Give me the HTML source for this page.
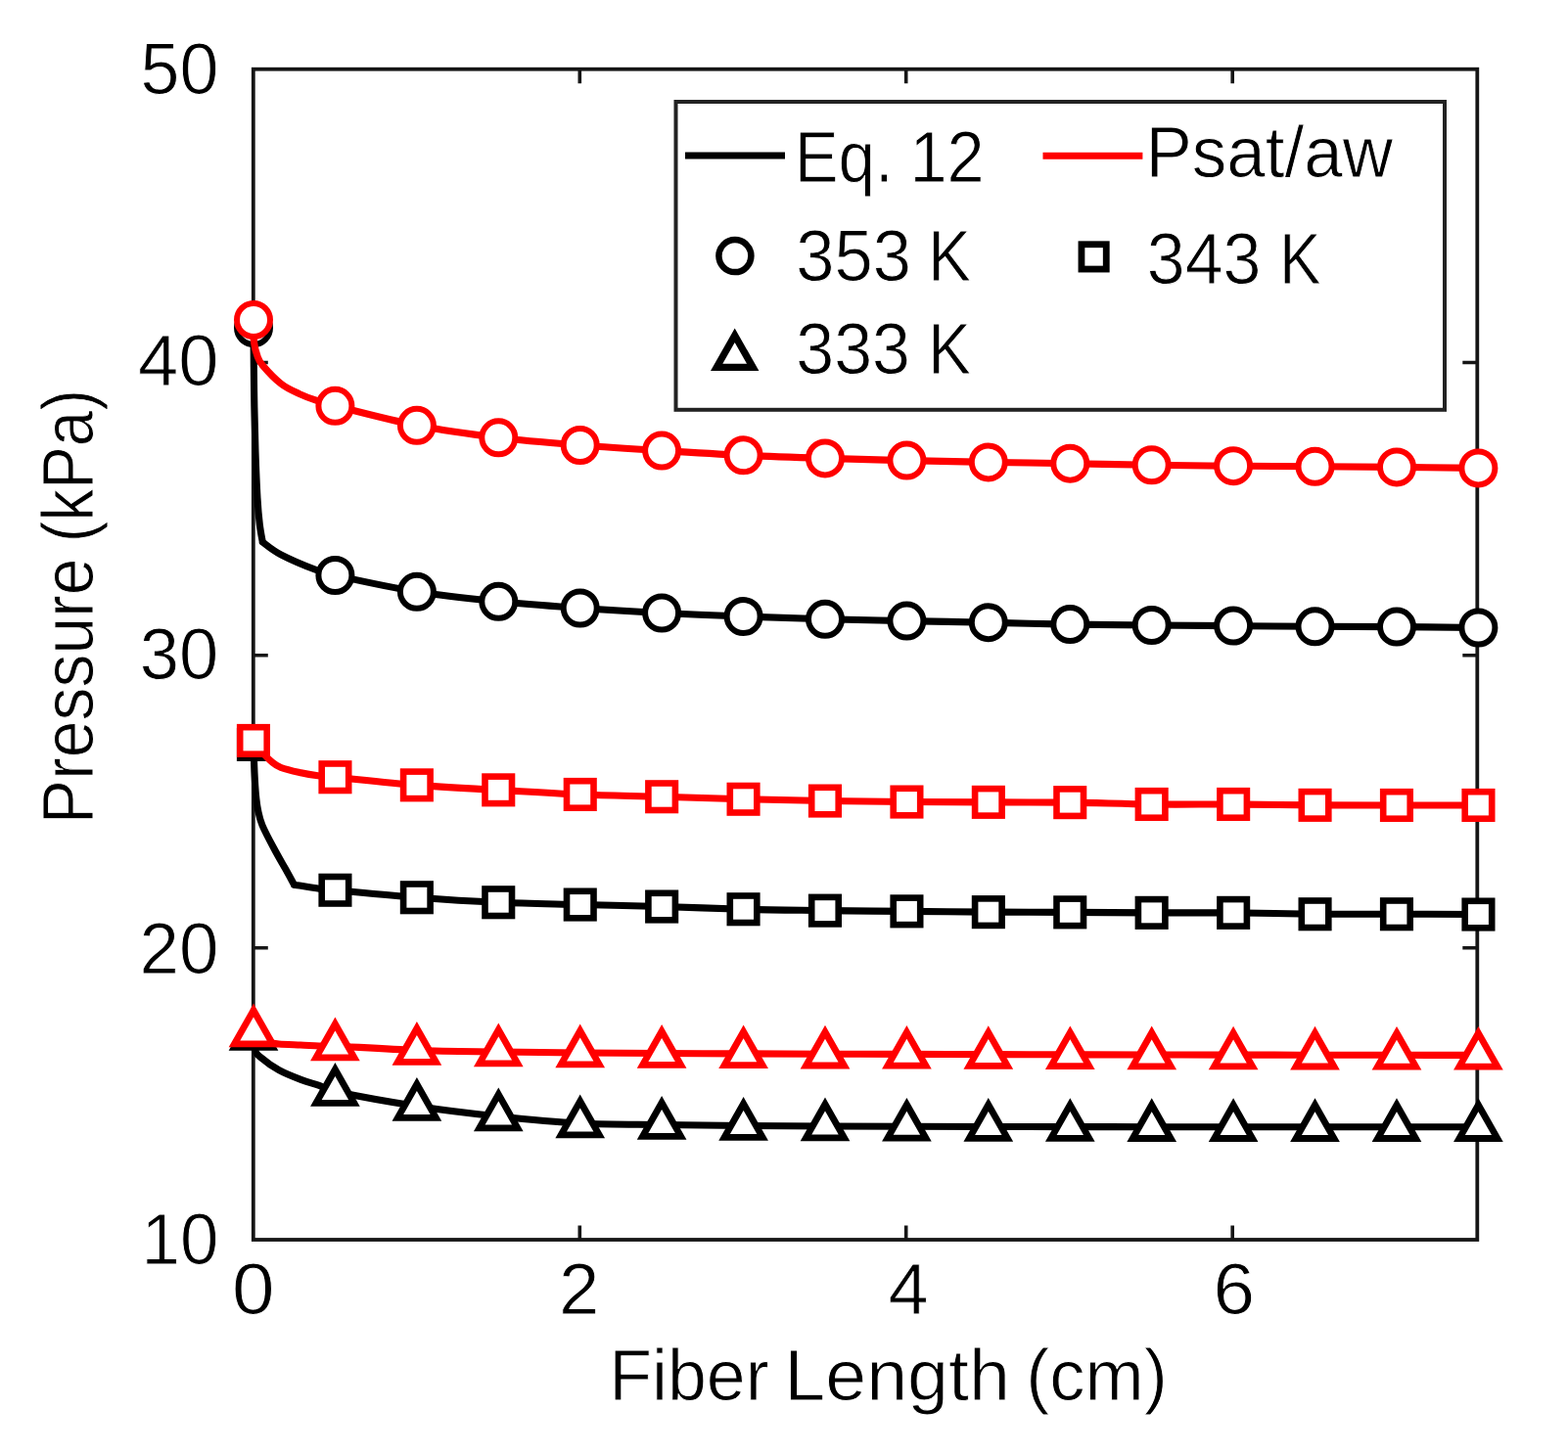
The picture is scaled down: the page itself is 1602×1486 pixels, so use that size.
<!DOCTYPE html><html><head><meta charset="utf-8"><title>Pressure vs Fiber Length</title><style>html,body{margin:0;padding:0;background:#fff}svg{display:block}text{font-family:"Liberation Sans",Arial,sans-serif;fill:#000;stroke:#fff;stroke-width:0.9px}</style></head><body>
<svg width="1602" height="1486" viewBox="0 0 1602 1486">
<rect width="1602" height="1486" fill="#fff"/>
<path d="M258.8 968.8H273.8 M1509.3 968.8H1494.3 M258.8 669.7H273.8 M1509.3 669.7H1494.3 M258.8 370.5H273.8 M1509.3 370.5H1494.3 M592.3 1267.0V1252.5 M592.3 70.7V85.2 M925.7 1267.0V1252.5 M925.7 70.7V85.2 M1259.2 1267.0V1252.5 M1259.2 70.7V85.2" stroke="#161616" stroke-width="3.6" fill="none"/>
<rect x="258.8" y="70.7" width="1250.5" height="1196.3" fill="none" stroke="#161616" stroke-width="3.8"/>
<text x="143.47" y="95.90" font-size="73.5" textLength="79.83" lengthAdjust="spacingAndGlyphs">50</text>
<text x="140.98" y="393.70" font-size="73.5" textLength="82.40" lengthAdjust="spacingAndGlyphs">40</text>
<text x="142.85" y="694.30" font-size="73.5" textLength="80.47" lengthAdjust="spacingAndGlyphs">30</text>
<text x="142.44" y="994.90" font-size="73.5" textLength="80.89" lengthAdjust="spacingAndGlyphs">20</text>
<text x="144.52" y="1291.60" font-size="73.5" textLength="78.74" lengthAdjust="spacingAndGlyphs">10</text>
<text x="237.00" y="1343.10" font-size="73.5" textLength="43.58" lengthAdjust="spacingAndGlyphs">0</text>
<text x="571.05" y="1342.50" font-size="73.5" textLength="41.39" lengthAdjust="spacingAndGlyphs">2</text>
<text x="907.59" y="1342.50" font-size="73.5" textLength="41.11" lengthAdjust="spacingAndGlyphs">4</text>
<text x="1239.64" y="1342.90" font-size="73.5" textLength="42.57" lengthAdjust="spacingAndGlyphs">6</text>
<text x="622.25" y="1430.50" font-size="73.5" textLength="163.39" lengthAdjust="spacingAndGlyphs">Fiber</text>
<text x="801.24" y="1430.50" font-size="73.5" textLength="230.70" lengthAdjust="spacingAndGlyphs">Length</text>
<text x="1048.28" y="1430.50" font-size="73.5" textLength="144.47" lengthAdjust="spacingAndGlyphs">(cm)</text>
<text transform="translate(95.30 842.14) rotate(-90)" x="0" y="0" font-size="73.5" textLength="271.72" lengthAdjust="spacingAndGlyphs">Pressure</text>
<text transform="translate(95.30 554.14) rotate(-90)" x="0" y="0" font-size="73.5" textLength="156.04" lengthAdjust="spacingAndGlyphs">(kPa)</text>
<path d="M259.0 335.0 C259.1 345.8 259.3 378.8 259.6 400.0 C259.9 421.2 260.4 443.8 261.0 462.0 C261.6 480.2 262.3 496.7 263.0 509.0 C263.7 521.3 264.4 528.5 265.3 536.0 C266.2 543.5 267.8 551.0 268.3 554.0 M268.3 554.0 C271.4 556.1 277.8 562.0 287.0 566.8 C296.2 571.6 314.6 579.3 323.8 582.8 C333.0 586.3 325.4 584.3 342.4 588.0 C359.4 591.7 398.0 600.3 425.9 604.8 C453.7 609.3 481.5 612.0 509.3 614.8 C537.1 617.6 564.9 619.5 592.7 621.5 C620.5 623.5 648.3 625.1 676.1 626.5 C703.9 627.9 731.8 629.0 759.6 630.0 C787.4 631.0 815.2 632.0 843.0 632.8 C870.8 633.6 898.6 634.0 926.4 634.6 C954.2 635.2 982.0 635.6 1009.8 636.2 C1037.6 636.8 1065.5 637.6 1093.3 638.1 C1121.1 638.6 1148.9 638.8 1176.7 639.0 C1204.5 639.2 1232.3 639.4 1260.1 639.6 C1287.9 639.8 1315.7 640.1 1343.5 640.3 C1371.4 640.5 1399.2 640.4 1427.0 640.6 C1454.8 640.8 1496.5 641.4 1510.4 641.5" fill="none" stroke="#000" stroke-width="7.1" stroke-linejoin="round" stroke-linecap="round"/>
<circle cx="259.0" cy="335.0" r="17.0" fill="#fff" stroke="#000" stroke-width="6.0"/>
<circle cx="342.4" cy="588.0" r="17.0" fill="#fff" stroke="#000" stroke-width="6.0"/>
<circle cx="425.9" cy="604.8" r="17.0" fill="#fff" stroke="#000" stroke-width="6.0"/>
<circle cx="509.3" cy="614.8" r="17.0" fill="#fff" stroke="#000" stroke-width="6.0"/>
<circle cx="592.7" cy="621.5" r="17.0" fill="#fff" stroke="#000" stroke-width="6.0"/>
<circle cx="676.1" cy="626.5" r="17.0" fill="#fff" stroke="#000" stroke-width="6.0"/>
<circle cx="759.6" cy="630.0" r="17.0" fill="#fff" stroke="#000" stroke-width="6.0"/>
<circle cx="843.0" cy="632.8" r="17.0" fill="#fff" stroke="#000" stroke-width="6.0"/>
<circle cx="926.4" cy="634.6" r="17.0" fill="#fff" stroke="#000" stroke-width="6.0"/>
<circle cx="1009.8" cy="636.2" r="17.0" fill="#fff" stroke="#000" stroke-width="6.0"/>
<circle cx="1093.3" cy="638.1" r="17.0" fill="#fff" stroke="#000" stroke-width="6.0"/>
<circle cx="1176.7" cy="639.0" r="17.0" fill="#fff" stroke="#000" stroke-width="6.0"/>
<circle cx="1260.1" cy="639.6" r="17.0" fill="#fff" stroke="#000" stroke-width="6.0"/>
<circle cx="1343.5" cy="640.3" r="17.0" fill="#fff" stroke="#000" stroke-width="6.0"/>
<circle cx="1427.0" cy="640.6" r="17.0" fill="#fff" stroke="#000" stroke-width="6.0"/>
<circle cx="1510.4" cy="641.5" r="17.0" fill="#fff" stroke="#000" stroke-width="6.0"/>
<path d="M259.0 761.0 C259.2 765.8 259.6 781.5 260.0 790.0 C260.4 798.5 260.8 805.7 261.4 812.0 C262.0 818.3 262.5 822.8 263.6 828.0 C264.7 833.2 265.2 836.8 268.0 843.5 C270.8 850.2 276.5 860.8 280.4 868.0 C284.2 875.2 287.7 881.0 291.1 887.0 C294.5 893.0 299.0 901.4 300.6 904.3 M300.6 904.3 C304.9 904.9 319.1 907.3 326.1 908.2 C333.1 909.1 325.8 908.3 342.4 909.8 C359.1 911.3 398.0 915.2 425.9 917.3 C453.7 919.4 481.5 921.1 509.3 922.3 C537.1 923.5 564.9 923.8 592.7 924.5 C620.5 925.2 648.3 925.7 676.1 926.5 C703.9 927.3 731.8 928.6 759.6 929.3 C787.4 930.0 815.2 930.2 843.0 930.6 C870.8 931.0 898.6 931.1 926.4 931.4 C954.2 931.6 982.0 931.9 1009.8 932.1 C1037.6 932.3 1065.5 932.3 1093.3 932.4 C1121.1 932.5 1148.9 932.8 1176.7 932.9 C1204.5 933.0 1232.3 932.7 1260.1 932.9 C1287.9 933.1 1315.7 934.0 1343.5 934.2 C1371.4 934.4 1399.2 934.2 1427.0 934.2 C1454.8 934.2 1496.5 934.5 1510.4 934.5" fill="none" stroke="#000" stroke-width="7.1" stroke-linejoin="round" stroke-linecap="round"/>
<rect x="245.2" y="747.2" width="27.5" height="27.5" fill="#fff" stroke="#000" stroke-width="6.6"/>
<rect x="328.7" y="896.0" width="27.5" height="27.5" fill="#fff" stroke="#000" stroke-width="6.6"/>
<rect x="412.1" y="903.5" width="27.5" height="27.5" fill="#fff" stroke="#000" stroke-width="6.6"/>
<rect x="495.5" y="908.5" width="27.5" height="27.5" fill="#fff" stroke="#000" stroke-width="6.6"/>
<rect x="579.0" y="910.8" width="27.5" height="27.5" fill="#fff" stroke="#000" stroke-width="6.6"/>
<rect x="662.4" y="912.8" width="27.5" height="27.5" fill="#fff" stroke="#000" stroke-width="6.6"/>
<rect x="745.8" y="915.5" width="27.5" height="27.5" fill="#fff" stroke="#000" stroke-width="6.6"/>
<rect x="829.2" y="916.9" width="27.5" height="27.5" fill="#fff" stroke="#000" stroke-width="6.6"/>
<rect x="912.7" y="917.6" width="27.5" height="27.5" fill="#fff" stroke="#000" stroke-width="6.6"/>
<rect x="996.1" y="918.4" width="27.5" height="27.5" fill="#fff" stroke="#000" stroke-width="6.6"/>
<rect x="1079.5" y="918.6" width="27.5" height="27.5" fill="#fff" stroke="#000" stroke-width="6.6"/>
<rect x="1162.9" y="919.1" width="27.5" height="27.5" fill="#fff" stroke="#000" stroke-width="6.6"/>
<rect x="1246.4" y="919.1" width="27.5" height="27.5" fill="#fff" stroke="#000" stroke-width="6.6"/>
<rect x="1329.8" y="920.5" width="27.5" height="27.5" fill="#fff" stroke="#000" stroke-width="6.6"/>
<rect x="1413.2" y="920.5" width="27.5" height="27.5" fill="#fff" stroke="#000" stroke-width="6.6"/>
<rect x="1496.7" y="920.8" width="27.5" height="27.5" fill="#fff" stroke="#000" stroke-width="6.6"/>
<path d="M259.0 1058.5 C259.3 1060.9 259.4 1069.3 260.6 1073.0 C261.8 1076.7 262.1 1077.0 266.2 1080.5 C270.3 1084.0 278.1 1089.9 285.0 1093.7 C291.9 1097.5 300.5 1100.8 307.4 1103.4 C314.2 1106.0 320.3 1107.4 326.1 1109.4 C331.9 1111.4 325.8 1112.0 342.4 1115.5 C359.1 1119.0 398.0 1126.2 425.9 1130.5 C453.7 1134.8 481.5 1138.1 509.3 1141.0 C537.1 1143.9 564.9 1146.6 592.7 1148.0 C620.5 1149.4 648.3 1149.1 676.1 1149.5 C703.9 1149.9 731.8 1150.2 759.6 1150.5 C787.4 1150.8 815.2 1150.9 843.0 1151.0 C870.8 1151.1 898.6 1151.2 926.4 1151.3 C954.2 1151.4 982.0 1151.5 1009.8 1151.5 C1037.6 1151.5 1065.5 1151.6 1093.3 1151.6 C1121.1 1151.6 1148.9 1151.7 1176.7 1151.7 C1204.5 1151.7 1232.3 1151.7 1260.1 1151.7 C1287.9 1151.7 1315.7 1151.7 1343.5 1151.7 C1371.4 1151.7 1399.2 1151.7 1427.0 1151.7 C1454.8 1151.7 1496.5 1151.7 1510.4 1151.7" fill="none" stroke="#000" stroke-width="7.1" stroke-linejoin="round" stroke-linecap="round"/>
<path d="M259.0 1036.0L278.5 1070.3L239.5 1070.3Z" fill="#fff" stroke="#000" stroke-width="6.8" stroke-linejoin="miter" stroke-miterlimit="10"/>
<path d="M342.4 1093.0L361.9 1127.3L322.9 1127.3Z" fill="#fff" stroke="#000" stroke-width="6.8" stroke-linejoin="miter" stroke-miterlimit="10"/>
<path d="M425.9 1108.0L445.4 1142.3L406.4 1142.3Z" fill="#fff" stroke="#000" stroke-width="6.8" stroke-linejoin="miter" stroke-miterlimit="10"/>
<path d="M509.3 1118.5L528.8 1152.8L489.8 1152.8Z" fill="#fff" stroke="#000" stroke-width="6.8" stroke-linejoin="miter" stroke-miterlimit="10"/>
<path d="M592.7 1125.5L612.2 1159.8L573.2 1159.8Z" fill="#fff" stroke="#000" stroke-width="6.8" stroke-linejoin="miter" stroke-miterlimit="10"/>
<path d="M676.1 1127.0L695.6 1161.3L656.6 1161.3Z" fill="#fff" stroke="#000" stroke-width="6.8" stroke-linejoin="miter" stroke-miterlimit="10"/>
<path d="M759.6 1128.0L779.1 1162.3L740.1 1162.3Z" fill="#fff" stroke="#000" stroke-width="6.8" stroke-linejoin="miter" stroke-miterlimit="10"/>
<path d="M843.0 1128.5L862.5 1162.8L823.5 1162.8Z" fill="#fff" stroke="#000" stroke-width="6.8" stroke-linejoin="miter" stroke-miterlimit="10"/>
<path d="M926.4 1128.8L945.9 1163.1L906.9 1163.1Z" fill="#fff" stroke="#000" stroke-width="6.8" stroke-linejoin="miter" stroke-miterlimit="10"/>
<path d="M1009.8 1129.0L1029.3 1163.3L990.3 1163.3Z" fill="#fff" stroke="#000" stroke-width="6.8" stroke-linejoin="miter" stroke-miterlimit="10"/>
<path d="M1093.3 1129.1L1112.8 1163.4L1073.8 1163.4Z" fill="#fff" stroke="#000" stroke-width="6.8" stroke-linejoin="miter" stroke-miterlimit="10"/>
<path d="M1176.7 1129.2L1196.2 1163.5L1157.2 1163.5Z" fill="#fff" stroke="#000" stroke-width="6.8" stroke-linejoin="miter" stroke-miterlimit="10"/>
<path d="M1260.1 1129.2L1279.6 1163.5L1240.6 1163.5Z" fill="#fff" stroke="#000" stroke-width="6.8" stroke-linejoin="miter" stroke-miterlimit="10"/>
<path d="M1343.5 1129.2L1363.0 1163.5L1324.0 1163.5Z" fill="#fff" stroke="#000" stroke-width="6.8" stroke-linejoin="miter" stroke-miterlimit="10"/>
<path d="M1427.0 1129.2L1446.5 1163.5L1407.5 1163.5Z" fill="#fff" stroke="#000" stroke-width="6.8" stroke-linejoin="miter" stroke-miterlimit="10"/>
<path d="M1510.4 1129.2L1529.9 1163.5L1490.9 1163.5Z" fill="#fff" stroke="#000" stroke-width="6.8" stroke-linejoin="miter" stroke-miterlimit="10"/>
<path d="M259.0 327.0 C259.1 330.8 258.9 343.8 259.6 350.0 C260.3 356.2 261.6 360.1 263.0 364.0 C264.4 367.9 264.3 368.7 268.3 373.4 C272.3 378.1 280.9 387.4 287.2 392.3 C293.5 397.2 300.0 399.8 306.0 402.6 C312.0 405.4 316.9 407.2 323.0 409.2 C329.1 411.2 325.3 410.5 342.4 414.8 C359.6 419.1 398.0 429.4 425.9 434.8 C453.7 440.2 481.5 443.9 509.3 447.3 C537.1 450.7 564.9 452.8 592.7 455.0 C620.5 457.2 648.3 458.9 676.1 460.6 C703.9 462.3 731.8 464.0 759.6 465.3 C787.4 466.6 815.2 467.5 843.0 468.4 C870.8 469.3 898.6 469.9 926.4 470.6 C954.2 471.3 982.0 471.9 1009.8 472.4 C1037.6 472.9 1065.5 473.2 1093.3 473.7 C1121.1 474.2 1148.9 474.9 1176.7 475.3 C1204.5 475.7 1232.3 475.9 1260.1 476.2 C1287.9 476.4 1315.7 476.6 1343.5 476.8 C1371.4 477.0 1399.2 477.1 1427.0 477.4 C1454.8 477.7 1496.5 478.2 1510.4 478.4" fill="none" stroke="#ff0000" stroke-width="7.1" stroke-linejoin="round" stroke-linecap="round"/>
<circle cx="259.0" cy="327.0" r="17.0" fill="#fff" stroke="#ff0000" stroke-width="6.0"/>
<circle cx="342.4" cy="414.8" r="17.0" fill="#fff" stroke="#ff0000" stroke-width="6.0"/>
<circle cx="425.9" cy="434.8" r="17.0" fill="#fff" stroke="#ff0000" stroke-width="6.0"/>
<circle cx="509.3" cy="447.3" r="17.0" fill="#fff" stroke="#ff0000" stroke-width="6.0"/>
<circle cx="592.7" cy="455.0" r="17.0" fill="#fff" stroke="#ff0000" stroke-width="6.0"/>
<circle cx="676.1" cy="460.6" r="17.0" fill="#fff" stroke="#ff0000" stroke-width="6.0"/>
<circle cx="759.6" cy="465.3" r="17.0" fill="#fff" stroke="#ff0000" stroke-width="6.0"/>
<circle cx="843.0" cy="468.4" r="17.0" fill="#fff" stroke="#ff0000" stroke-width="6.0"/>
<circle cx="926.4" cy="470.6" r="17.0" fill="#fff" stroke="#ff0000" stroke-width="6.0"/>
<circle cx="1009.8" cy="472.4" r="17.0" fill="#fff" stroke="#ff0000" stroke-width="6.0"/>
<circle cx="1093.3" cy="473.7" r="17.0" fill="#fff" stroke="#ff0000" stroke-width="6.0"/>
<circle cx="1176.7" cy="475.3" r="17.0" fill="#fff" stroke="#ff0000" stroke-width="6.0"/>
<circle cx="1260.1" cy="476.2" r="17.0" fill="#fff" stroke="#ff0000" stroke-width="6.0"/>
<circle cx="1343.5" cy="476.8" r="17.0" fill="#fff" stroke="#ff0000" stroke-width="6.0"/>
<circle cx="1427.0" cy="477.4" r="17.0" fill="#fff" stroke="#ff0000" stroke-width="6.0"/>
<circle cx="1510.4" cy="478.4" r="17.0" fill="#fff" stroke="#ff0000" stroke-width="6.0"/>
<path d="M259.0 757.0 C260.0 758.3 263.0 762.5 265.0 765.0 C267.0 767.5 269.0 769.8 271.0 772.0 C273.0 774.2 274.3 775.9 277.0 778.0 C279.7 780.1 282.1 782.5 287.1 784.5 C292.2 786.5 301.0 788.4 307.3 789.8 C313.6 791.2 318.9 792.0 324.8 792.7 C330.7 793.5 325.6 792.7 342.4 794.3 C359.3 795.9 398.0 800.2 425.9 802.4 C453.7 804.6 481.5 805.8 509.3 807.4 C537.1 809.0 564.9 810.9 592.7 812.0 C620.5 813.1 648.3 813.4 676.1 814.2 C703.9 815.0 731.8 816.0 759.6 816.7 C787.4 817.4 815.2 818.0 843.0 818.5 C870.8 819.0 898.6 819.3 926.4 819.5 C954.2 819.7 982.0 819.8 1009.8 819.9 C1037.6 820.0 1065.5 819.8 1093.3 820.1 C1121.1 820.5 1148.9 821.7 1176.7 822.0 C1204.5 822.3 1232.3 821.9 1260.1 822.0 C1287.9 822.1 1315.7 822.7 1343.5 822.9 C1371.4 823.1 1399.2 823.0 1427.0 823.0 C1454.8 823.0 1496.5 823.0 1510.4 823.0" fill="none" stroke="#ff0000" stroke-width="7.1" stroke-linejoin="round" stroke-linecap="round"/>
<rect x="245.2" y="743.2" width="27.5" height="27.5" fill="#fff" stroke="#ff0000" stroke-width="6.6"/>
<rect x="328.7" y="780.5" width="27.5" height="27.5" fill="#fff" stroke="#ff0000" stroke-width="6.6"/>
<rect x="412.1" y="788.6" width="27.5" height="27.5" fill="#fff" stroke="#ff0000" stroke-width="6.6"/>
<rect x="495.5" y="793.6" width="27.5" height="27.5" fill="#fff" stroke="#ff0000" stroke-width="6.6"/>
<rect x="579.0" y="798.2" width="27.5" height="27.5" fill="#fff" stroke="#ff0000" stroke-width="6.6"/>
<rect x="662.4" y="800.5" width="27.5" height="27.5" fill="#fff" stroke="#ff0000" stroke-width="6.6"/>
<rect x="745.8" y="803.0" width="27.5" height="27.5" fill="#fff" stroke="#ff0000" stroke-width="6.6"/>
<rect x="829.2" y="804.8" width="27.5" height="27.5" fill="#fff" stroke="#ff0000" stroke-width="6.6"/>
<rect x="912.7" y="805.8" width="27.5" height="27.5" fill="#fff" stroke="#ff0000" stroke-width="6.6"/>
<rect x="996.1" y="806.1" width="27.5" height="27.5" fill="#fff" stroke="#ff0000" stroke-width="6.6"/>
<rect x="1079.5" y="806.4" width="27.5" height="27.5" fill="#fff" stroke="#ff0000" stroke-width="6.6"/>
<rect x="1162.9" y="808.2" width="27.5" height="27.5" fill="#fff" stroke="#ff0000" stroke-width="6.6"/>
<rect x="1246.4" y="808.2" width="27.5" height="27.5" fill="#fff" stroke="#ff0000" stroke-width="6.6"/>
<rect x="1329.8" y="809.1" width="27.5" height="27.5" fill="#fff" stroke="#ff0000" stroke-width="6.6"/>
<rect x="1413.2" y="809.2" width="27.5" height="27.5" fill="#fff" stroke="#ff0000" stroke-width="6.6"/>
<rect x="1496.7" y="809.2" width="27.5" height="27.5" fill="#fff" stroke="#ff0000" stroke-width="6.6"/>
<path d="M259.0 1055.0 C260.0 1056.1 262.3 1059.8 265.0 1061.5 C267.7 1063.2 271.7 1064.6 275.0 1065.5 C278.3 1066.4 279.7 1066.6 285.0 1067.0 C290.3 1067.4 300.2 1067.7 307.0 1068.0 C313.8 1068.3 320.1 1068.8 326.0 1069.0 C331.9 1069.2 325.8 1068.2 342.4 1069.0 C359.1 1069.8 398.0 1072.5 425.9 1073.5 C453.7 1074.5 481.5 1074.6 509.3 1075.0 C537.1 1075.4 564.9 1075.8 592.7 1076.0 C620.5 1076.2 648.3 1076.3 676.1 1076.5 C703.9 1076.7 731.8 1076.8 759.6 1076.9 C787.4 1077.0 815.2 1077.1 843.0 1077.2 C870.8 1077.3 898.6 1077.3 926.4 1077.4 C954.2 1077.5 982.0 1077.5 1009.8 1077.6 C1037.6 1077.7 1065.5 1077.7 1093.3 1077.8 C1121.1 1077.9 1148.9 1078.0 1176.7 1078.0 C1204.5 1078.0 1232.3 1078.1 1260.1 1078.1 C1287.9 1078.1 1315.7 1078.2 1343.5 1078.2 C1371.4 1078.2 1399.2 1078.3 1427.0 1078.3 C1454.8 1078.3 1496.5 1078.4 1510.4 1078.4" fill="none" stroke="#ff0000" stroke-width="7.1" stroke-linejoin="round" stroke-linecap="round"/>
<path d="M259.0 1032.5L278.5 1066.8L239.5 1066.8Z" fill="#fff" stroke="#ff0000" stroke-width="6.8" stroke-linejoin="miter" stroke-miterlimit="10"/>
<path d="M342.4 1046.5L361.9 1080.8L322.9 1080.8Z" fill="#fff" stroke="#ff0000" stroke-width="6.8" stroke-linejoin="miter" stroke-miterlimit="10"/>
<path d="M425.9 1051.0L445.4 1085.3L406.4 1085.3Z" fill="#fff" stroke="#ff0000" stroke-width="6.8" stroke-linejoin="miter" stroke-miterlimit="10"/>
<path d="M509.3 1052.5L528.8 1086.8L489.8 1086.8Z" fill="#fff" stroke="#ff0000" stroke-width="6.8" stroke-linejoin="miter" stroke-miterlimit="10"/>
<path d="M592.7 1053.5L612.2 1087.8L573.2 1087.8Z" fill="#fff" stroke="#ff0000" stroke-width="6.8" stroke-linejoin="miter" stroke-miterlimit="10"/>
<path d="M676.1 1054.0L695.6 1088.3L656.6 1088.3Z" fill="#fff" stroke="#ff0000" stroke-width="6.8" stroke-linejoin="miter" stroke-miterlimit="10"/>
<path d="M759.6 1054.4L779.1 1088.7L740.1 1088.7Z" fill="#fff" stroke="#ff0000" stroke-width="6.8" stroke-linejoin="miter" stroke-miterlimit="10"/>
<path d="M843.0 1054.7L862.5 1089.0L823.5 1089.0Z" fill="#fff" stroke="#ff0000" stroke-width="6.8" stroke-linejoin="miter" stroke-miterlimit="10"/>
<path d="M926.4 1054.9L945.9 1089.2L906.9 1089.2Z" fill="#fff" stroke="#ff0000" stroke-width="6.8" stroke-linejoin="miter" stroke-miterlimit="10"/>
<path d="M1009.8 1055.1L1029.3 1089.4L990.3 1089.4Z" fill="#fff" stroke="#ff0000" stroke-width="6.8" stroke-linejoin="miter" stroke-miterlimit="10"/>
<path d="M1093.3 1055.3L1112.8 1089.6L1073.8 1089.6Z" fill="#fff" stroke="#ff0000" stroke-width="6.8" stroke-linejoin="miter" stroke-miterlimit="10"/>
<path d="M1176.7 1055.5L1196.2 1089.8L1157.2 1089.8Z" fill="#fff" stroke="#ff0000" stroke-width="6.8" stroke-linejoin="miter" stroke-miterlimit="10"/>
<path d="M1260.1 1055.6L1279.6 1089.9L1240.6 1089.9Z" fill="#fff" stroke="#ff0000" stroke-width="6.8" stroke-linejoin="miter" stroke-miterlimit="10"/>
<path d="M1343.5 1055.7L1363.0 1090.0L1324.0 1090.0Z" fill="#fff" stroke="#ff0000" stroke-width="6.8" stroke-linejoin="miter" stroke-miterlimit="10"/>
<path d="M1427.0 1055.8L1446.5 1090.1L1407.5 1090.1Z" fill="#fff" stroke="#ff0000" stroke-width="6.8" stroke-linejoin="miter" stroke-miterlimit="10"/>
<path d="M1510.4 1055.9L1529.9 1090.2L1490.9 1090.2Z" fill="#fff" stroke="#ff0000" stroke-width="6.8" stroke-linejoin="miter" stroke-miterlimit="10"/>
<rect x="690.5" y="104" width="785.5" height="314.8" fill="#fff" stroke="#222" stroke-width="4"/>
<path d="M700 159H802" stroke="#000" stroke-width="7.1"/>
<path d="M1065.5 159.2H1167.4" stroke="#ff0000" stroke-width="7.1"/>
<text x="811.71" y="186.00" font-size="73.5" textLength="100.98" lengthAdjust="spacingAndGlyphs">Eq.</text>
<text x="929.41" y="186.00" font-size="73.5" textLength="76.20" lengthAdjust="spacingAndGlyphs">12</text>
<text x="1170.40" y="181.20" font-size="73.5" textLength="252.53" lengthAdjust="spacingAndGlyphs">Psat/aw</text>
<circle cx="750.9" cy="261.6" r="16.5" fill="#fff" stroke="#000" stroke-width="6.5"/>
<rect x="1104.95" y="249.75" width="25.3" height="25.3" fill="#fff" stroke="#000" stroke-width="6.8"/>
<path d="M750.7 342.80L769.20 375.30L732.20 375.30Z" fill="#fff" stroke="#000" stroke-width="7.2" stroke-linejoin="miter" stroke-miterlimit="10"/>
<text x="813.22" y="287.20" font-size="73.5" textLength="117.78" lengthAdjust="spacingAndGlyphs">353</text>
<text x="948.34" y="287.20" font-size="73.5" textLength="43.78" lengthAdjust="spacingAndGlyphs">K</text>
<text x="1171.74" y="290.00" font-size="73.5" textLength="116.72" lengthAdjust="spacingAndGlyphs">343</text>
<text x="1306.99" y="290.00" font-size="73.5" textLength="42.61" lengthAdjust="spacingAndGlyphs">K</text>
<text x="813.24" y="381.80" font-size="73.5" textLength="116.83" lengthAdjust="spacingAndGlyphs">333</text>
<text x="948.34" y="381.80" font-size="73.5" textLength="43.78" lengthAdjust="spacingAndGlyphs">K</text>
</svg></body></html>
